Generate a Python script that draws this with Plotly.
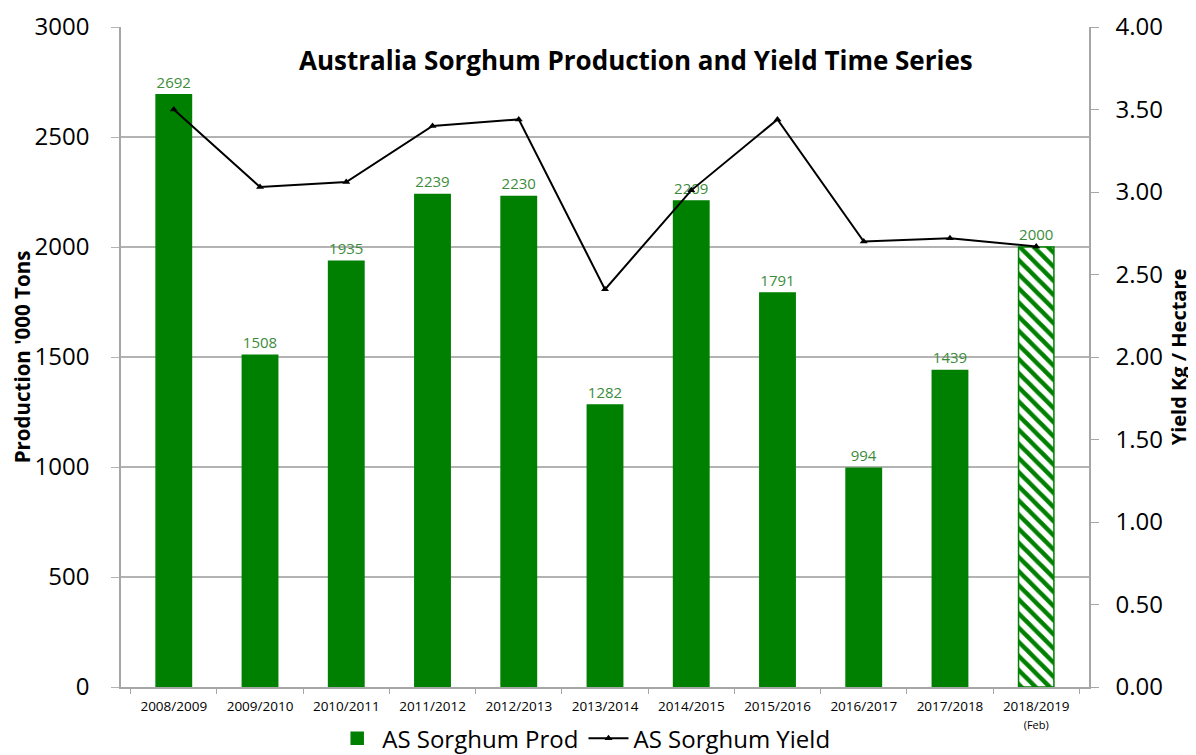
import plotly.graph_objects as go

seasons = ["2008/2009", "2009/2010", "2010/2011", "2011/2012", "2012/2013", "2013/2014",
           "2014/2015", "2015/2016", "2016/2017", "2017/2018", "2018/2019"]
tick_labels = seasons[:-1] + ["2018/2019<br><span style='font-size:11px'>(Feb)</span>"]
production = [2692, 1508, 1935, 2239, 2230, 1282, 2209, 1791, 994, 1439, 2000]
yield_vals = [3.50, 3.03, 3.06, 3.40, 3.44, 2.41, 3.01, 3.44, 2.70, 2.72, 2.67]

GREEN = "#008000"
FONT = "Open Sans"

patterns = [""] * (len(seasons) - 1) + ["\\"]

fig = go.Figure()
fig.add_trace(go.Bar(
    x=seasons, y=production, name="AS Sorghum Prod",
    marker=dict(color=GREEN, line=dict(color=GREEN, width=1.5),
                pattern=dict(shape=patterns, fgcolor=GREEN, bgcolor="white",
                             fillmode="replace", size=10, solidity=0.45)),
    width=0.41,
    text=[str(v) for v in production], textposition="outside",
    textfont=dict(color="#3c8c3c", size=15, family=FONT),
    cliponaxis=False,
))
fig.add_trace(go.Scatter(
    x=seasons, y=yield_vals, name="AS Sorghum Yield", yaxis="y2",
    mode="lines+markers",
    line=dict(color="black", width=2),
    marker=dict(symbol="triangle-up", size=7, color="black"),
))

fig.update_layout(
    width=1188, height=747,
    paper_bgcolor="white", plot_bgcolor="white",
    margin=dict(l=113, r=107, t=19, b=68, autoexpand=False),
    font=dict(family=FONT, color="black"),
    bargap=0.59,
    showlegend=True,
    legend=dict(orientation="h", x=0.478, xanchor="center",
                yref="paper", y=-0.044, yanchor="top",
                font=dict(size=24, family=FONT), itemwidth=40, traceorder="normal"),
    xaxis=dict(
        tickmode="array", tickvals=seasons, ticktext=tick_labels,
        tickfont=dict(size=13.5, family=FONT),
        showline=True, linecolor="#a6a6a6", linewidth=1.5,
        ticks="outside", tickson="boundaries", ticklen=5, tickcolor="#a6a6a6",
        ticklabelstandoff=6,
        showgrid=False, automargin=False,
    ),
    yaxis=dict(
        range=[0, 3000], tickvals=[0, 500, 1000, 1500, 2000, 2500, 3000],
        tickfont=dict(size=24, family=FONT),
        showgrid=True, gridcolor="#b3b3b3", gridwidth=1.5,
        showline=True, linecolor="#a6a6a6", linewidth=1.5,
        ticks="outside", ticklen=8, tickcolor="#b3b3b3", ticklabelstandoff=17,
        title=dict(text="<b>Production '000 Tons</b>", font=dict(size=20.5, family=FONT), standoff=12),
        zeroline=False, automargin=False,
    ),
    yaxis2=dict(
        overlaying="y", side="right", range=[0, 4],
        tickvals=[0, 0.5, 1, 1.5, 2, 2.5, 3, 3.5, 4],
        ticktext=["0.00", "0.50", "1.00", "1.50", "2.00", "2.50", "3.00", "3.50", "4.00"],
        tickfont=dict(size=24, family=FONT),
        showgrid=False, showline=True, linecolor="#a6a6a6", linewidth=1.5,
        ticks="outside", ticklen=8, tickcolor="#a6a6a6", ticklabelstandoff=12,
        title=dict(text="<b>Yield Kg / Hectare</b>", font=dict(size=20, family=FONT), standoff=10),
        zeroline=False, automargin=False,
    ),
    annotations=[dict(
        text="<b>Australia Sorghum Production and Yield Time Series</b>",
        xref="paper", yref="paper", x=0.532, y=0.95, xanchor="center", yanchor="middle",
        showarrow=False, font=dict(size=26, family=FONT, color="black"),
    )],
)

fig.write_html("out.html")
